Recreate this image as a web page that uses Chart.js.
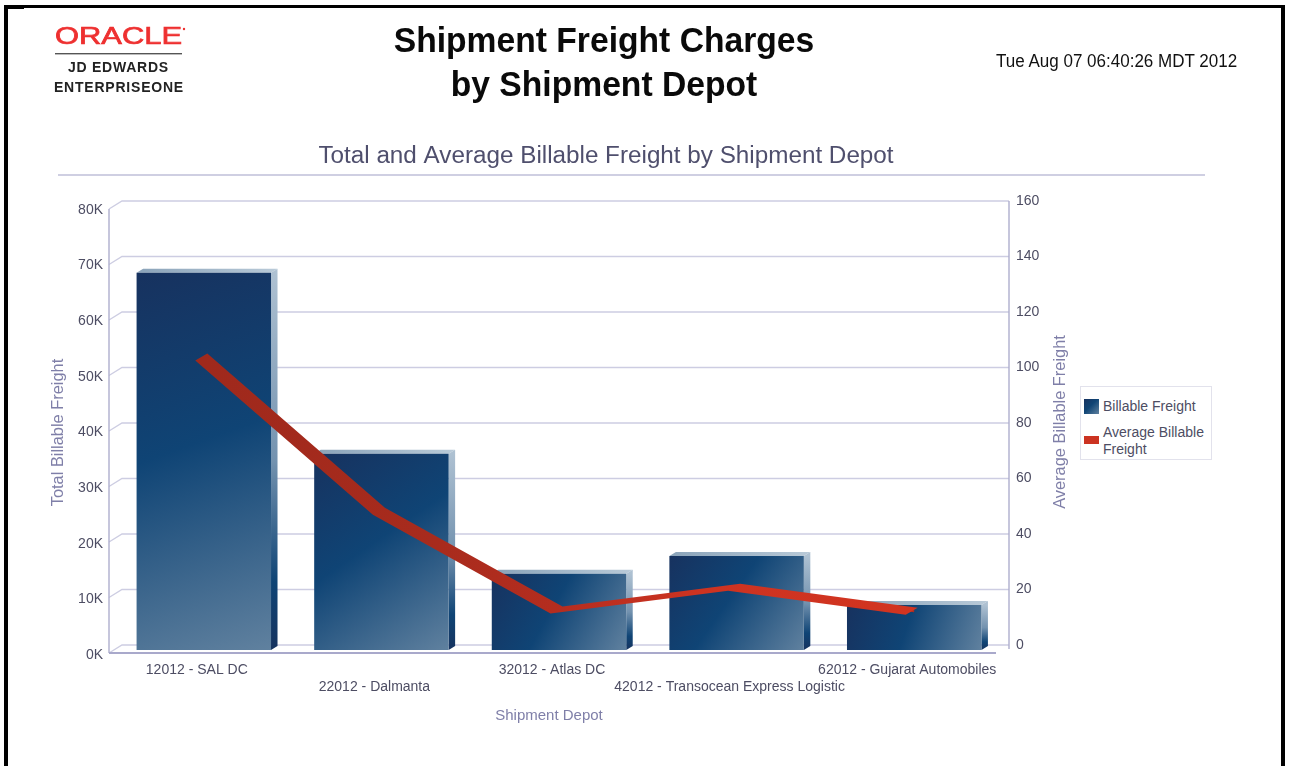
<!DOCTYPE html>
<html><head><meta charset="utf-8">
<script src="https://cdn.jsdelivr.net/npm/chart.js@4"></script>
<style>
html,body{margin:0;padding:0;background:#fff;width:1290px;height:766px;overflow:hidden;font-family:"Liberation Sans",Arial,sans-serif}
#wrap{position:relative;width:1290px;height:766px;filter:blur(.35px)}
.abs{position:absolute}
canvas{position:absolute;left:0;top:0}
#heading{left:304px;width:600px;top:18px;text-align:center;font-weight:bold;font-size:35px;line-height:44px;color:#0a0a0a;transform:scaleX(.961);transform-origin:300px 0}
#stamp{left:996px;top:51px;font-size:18px;line-height:21px;color:#111;white-space:nowrap;transform:scaleX(.945);transform-origin:0 0}
.jde{font-weight:bold;font-size:14px;color:#222;line-height:18px;white-space:nowrap}
#legend{left:1080px;top:386px;width:130px;height:72px;border:1px solid #e2e2ec;background:#fff;color:#4d4d63;font-size:14px;line-height:17px}
#legend .sw{position:absolute;left:3px;width:15px}
#legend .tx{position:absolute;left:22px;width:106px}
</style></head>
<body><div id="wrap">
<canvas id="c" width="1212" height="766"></canvas>
<div class="abs" style="left:4px;top:5px;width:4px;height:761px;background:#000"></div>
<div class="abs" style="left:4px;top:5px;width:1281px;height:3px;background:#000"></div>
<div class="abs" style="left:8px;top:8px;width:16px;height:1px;background:#000"></div>
<div class="abs" style="left:1281px;top:5px;width:4px;height:761px;background:#000"></div>
<svg class="abs" style="left:50px;top:20px" width="145" height="36">
<text x="5" y="24" textLength="127" lengthAdjust="spacingAndGlyphs" font-family="Liberation Sans" font-size="24" fill="#ee3030" stroke="#ee3030" stroke-width=".7">ORACLE</text>
<circle cx="134" cy="9" r="1.2" fill="#ee3030"/>
<rect x="5" y="33" width="127" height="1.4" fill="#555"/>
</svg>
<div class="abs jde" style="top:58px;left:68px;letter-spacing:.75px">JD EDWARDS</div>
<div class="abs jde" style="top:78px;left:54px;letter-spacing:.78px">ENTERPRISEONE</div>
<div class="abs" id="heading">Shipment Freight Charges<br>by Shipment Depot</div>
<div class="abs" id="stamp">Tue Aug 07 06:40:26 MDT 2012</div>
<div class="abs" style="left:58px;top:174px;width:1147px;height:2px;background:#cfcfe2"></div>
<div class="abs" id="legend">
 <div class="sw" style="top:12px;height:15px;background:linear-gradient(135deg,#17325f,#0f4475 45%,#60819f)"></div>
 <div class="tx" id="l0" style="top:11px"></div>
 <div class="sw" style="top:49px;height:8px;background:#cc3322"></div>
 <div class="tx" id="l1" style="top:37px"></div>
</div>
</div>
<script>
const categories = ['12012 - SAL DC','22012 - Dalmanta','32012 - Atlas DC','42012 - Transocean Express Logistic','62012 - Gujarat Automobiles'];
const billableFreight = [67800,35300,13700,16900,8100];
const averageBillableFreight = [103.8,48.2,12.6,20.8,12.2];
const rightTicks = [0,20,40,60,80,100,120,140,160];
const seriesNames = ['Billable Freight','Average Billable Freight'];
const chartTitle = 'Total and Average Billable Freight by Shipment Depot';
const axisTitles = {left:'Total Billable Freight', right:'Average Billable Freight', bottom:'Shipment Depot'};

document.getElementById('l0').textContent = seriesNames[0];
document.getElementById('l1').textContent = seriesNames[1];

const FONT = '"Liberation Sans", Arial, sans-serif';
const WALL = {dx:13, dy:8};
const BAR = {dx:6.5, dy:4};
const RIBBON = {lx:-8.5, ly:3.5, ux:3.5, uy:-3.5};
const BAR_PCT = .757;

const scene = {
  id:'scene',
  beforeDatasetsDraw(chart){
    const {ctx, chartArea:a, scales:{y1}} = chart;
    const backL = a.left + 7, backR = a.right + 6, frontL = backL - WALL.dx;
    ctx.save();
    ctx.lineWidth = 1.4; ctx.strokeStyle = '#cdcde2';
    y1.ticks.forEach(t=>{
      const p = y1.getPixelForValue(t.value);
      ctx.beginPath();
      ctx.moveTo(frontL, p + WALL.dy); ctx.lineTo(backL, p); ctx.lineTo(backR, p);
      ctx.stroke();
    });
    const p0 = y1.getPixelForValue(rightTicks[0]), pN = y1.getPixelForValue(rightTicks[rightTicks.length-1]);
    ctx.strokeStyle = '#aeaecd'; ctx.lineWidth = 1.4;
    ctx.beginPath(); ctx.moveTo(frontL, pN + WALL.dy); ctx.lineTo(frontL, p0 + WALL.dy); ctx.stroke();
    ctx.beginPath(); ctx.moveTo(backR, pN); ctx.lineTo(backR, p0 + 4); ctx.stroke();
    ctx.lineWidth = 2; ctx.strokeStyle = '#a9a9cb';
    ctx.beginPath(); ctx.moveTo(frontL, p0 + WALL.dy); ctx.lineTo(backR - WALL.dx, p0 + WALL.dy); ctx.stroke();
    chart.getDatasetMeta(0).data.forEach(b=>{
      const x0 = b.x - b.width/2, x1 = b.x + b.width/2, top = b.y, bot = b.base;
      const g = ctx.createLinearGradient(x0, 0, x1 + BAR.dx, 0);
      g.addColorStop(0,'#8aa3b9'); g.addColorStop(1,'#b9cad8');
      ctx.fillStyle = g;
      ctx.beginPath(); ctx.moveTo(x0,top); ctx.lineTo(x0+BAR.dx,top-BAR.dy); ctx.lineTo(x1+BAR.dx,top-BAR.dy); ctx.lineTo(x1,top); ctx.closePath(); ctx.fill();
      const s = ctx.createLinearGradient(0, top, 0, bot);
      s.addColorStop(0,'#aec1d2'); s.addColorStop(.5,'#7392af'); s.addColorStop(.82,'#0f4475'); s.addColorStop(1,'#16335f');
      ctx.fillStyle = s;
      ctx.beginPath(); ctx.moveTo(x1,top); ctx.lineTo(x1+BAR.dx,top-BAR.dy); ctx.lineTo(x1+BAR.dx,bot-BAR.dy); ctx.lineTo(x1,bot); ctx.closePath(); ctx.fill();
    });
    ctx.restore();
  },
  afterDatasetsDraw(chart){
    const {ctx, chartArea:a} = chart;
    const pts = chart.getDatasetMeta(1).data;
    ctx.save();
    const g = ctx.createLinearGradient(pts[0].x, 0, pts[pts.length-1].x, 0);
    g.addColorStop(0,'#9f291c'); g.addColorStop(.33,'#a82b1d'); g.addColorStop(.5,'#b52d1f'); g.addColorStop(.7,'#cd3321'); g.addColorStop(1,'#d23420');
    ctx.fillStyle = g;
    ctx.beginPath();
    pts.forEach((p,i)=>{ const X=p.x+RIBBON.ux, Y=p.y+RIBBON.uy; i?ctx.lineTo(X,Y):ctx.moveTo(X,Y); });
    for(let i=pts.length-1;i>=0;i--) ctx.lineTo(pts[i].x+RIBBON.lx, pts[i].y+RIBBON.ly);
    ctx.closePath(); ctx.fill();
    ctx.fillStyle = '#7f7fa8';
    ctx.textAlign='center'; ctx.textBaseline='middle';
    ctx.font = '15px '+FONT;
    ctx.fillText(axisTitles.bottom, (a.left+a.right)/2 - 10, a.bottom + 66);
    ctx.font = '16.4px '+FONT;
    ctx.save(); ctx.translate(58, (a.top+a.bottom)/2 + 5); ctx.rotate(-Math.PI/2); ctx.fillText(axisTitles.left,0,0); ctx.restore();
    ctx.save(); ctx.translate(1060, (a.top+a.bottom)/2 - 5.5); ctx.rotate(-Math.PI/2); ctx.fillText(axisTitles.right,0,0); ctx.restore();
    ctx.restore();
  }
};

new Chart(document.getElementById('c'), {
  type:'bar',
  data:{
    labels:categories,
    datasets:[
      {type:'bar', label:seriesNames[0], data:billableFreight, yAxisID:'y', order:2,
       barPercentage:BAR_PCT, categoryPercentage:1, borderWidth:0,
       backgroundColor(ctx){
         const ch = ctx.chart, xs = ch.scales.x, ys = ch.scales.y;
         if(!ch.chartArea || !xs || !ys || ctx.dataIndex===undefined) return '#0f4475';
         const w = ch.chartArea.width/categories.length*BAR_PCT, cx = xs.getPixelForValue(ctx.dataIndex);
         const g = ch.ctx.createLinearGradient(cx-w/2, ys.getPixelForValue(billableFreight[ctx.dataIndex]), cx+w/2, ys.getPixelForValue(0));
         g.addColorStop(0,'#17325f'); g.addColorStop(.45,'#0f4475'); g.addColorStop(1,'#60819f');
         return g;
       }},
      {type:'line', label:seriesNames[1], data:averageBillableFreight, yAxisID:'y1', order:1,
       borderColor:'#b02c1e', borderWidth:2, pointRadius:0, tension:0, fill:false}
    ]
  },
  plugins:[scene],
  options:{
    responsive:false, animation:false, events:[],
    layout:{padding:0},
    plugins:{
      legend:{display:false}, tooltip:{enabled:false},
      title:{display:true, text:chartTitle, color:'#4f4f6d', font:{family:FONT,size:24.25,weight:'normal',lineHeight:1.2}, padding:{top:142,bottom:33.9}}
    },
    scales:{
      x:{type:'category', offset:true, grid:{display:false}, border:{display:false},
         afterFit(s){s.height=116;},
         ticks:{autoSkip:false, maxRotation:0, minRotation:0, padding:4, labelOffset:-7, color:'#4d4d63',
                font:{family:FONT,size:14,lineHeight:'17px'},
                callback(v,i){const t=categories[i]; return i%2? ['',t] : t;}}},
      y:{type:'linear', position:'left', min:0, max:80000, grid:{display:false}, border:{display:false},
         afterFit(s){s.width=115;},
         ticks:{stepSize:10000, padding:4, labelOffset:5, color:'#4d4d63', font:{family:FONT,size:14},
                callback:v=>(v/1000)+'K'}},
      y1:{type:'linear', position:'right', bounds:'data', min:-1.8, max:158.56, grid:{display:false}, border:{display:false},
         afterFit(s){s.width=209;},
         afterBuildTicks(s){s.ticks = rightTicks.map(v=>({value:v}));},
         ticks:{autoSkip:false, padding:5, color:'#4d4d63', font:{family:FONT,size:14}}}
    }
  }
});
</script>
</body></html>
